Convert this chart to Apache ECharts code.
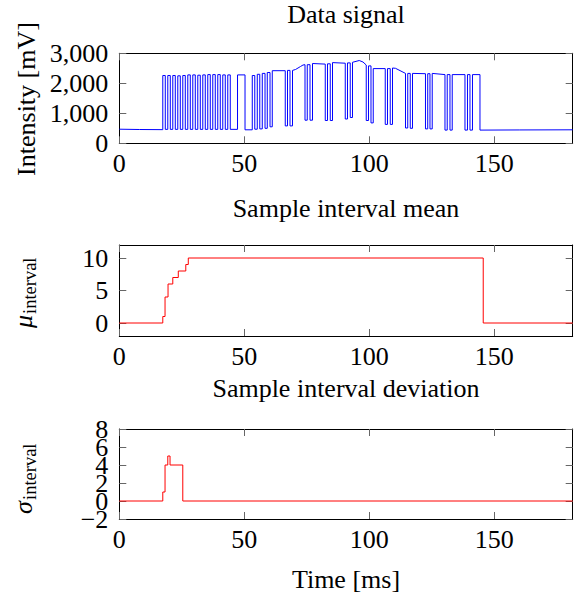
<!DOCTYPE html>
<html><head><meta charset="utf-8">
<script src="https://cdn.jsdelivr.net/npm/echarts@6/dist/echarts.min.js"></script>
<style>html,body{margin:0;padding:0;background:#fff}#c{width:582px;height:597px}</style>
</head><body><div id="c"></div>
<script>
// ---- data ----
const signalTime = [0,8,17.4,17.4,18.4,18.4,19.4,19.4,20.4,20.4,21.4,21.4,22.4,22.4,23.4,23.4,24.4,24.4,25.4,25.4,26.4,26.4,27.4,27.4,28.4,28.4,29.4,29.4,30.4,30.4,31.4,31.4,32.4,32.4,33.4,33.4,34.4,34.4,35.4,35.4,36.4,36.4,37.4,37.4,38.4,38.4,39.4,39.4,40.4,40.4,41.4,41.4,42.4,42.4,43.4,43.4,44.4,44.4,
47.3,47.3,50.3,50.3,53.2,53.2,54.2,54.2,55.2,55.2,56.2,56.2,57.2,57.2,58.3,58.3,59.2,59.2,60.3,60.3,61.2,61.2,66.4,66.4,67.3,67.3,68.3,68.3,69.3,69.3,70.5,72.5,73.5,74.3,74.3,75.2,75.2,76.3,76.3,77.3,77.3,82.4,82.4,83.3,83.3,84.4,84.4,85.3,85.3,90.4,90.4,91.3,91.3,92.4,92.4,93.3,93.3,96,97.5,98.8,98.8,99.7,99.7,100.7,100.7,101.6,101.6,106.4,106.4,107.3,107.3,108.4,108.4,109.3,109.3,110.5,114.5,114.5,115.4,115.4,116.4,116.4,117.3,117.3,122.5,122.5,123.4,123.4,124.3,124.3,125.2,125.2,130.3,130.3,131.2,131.2,132.3,132.3,133.2,133.2,138.3,138.3,139.3,139.3,140.3,140.3,141.3,141.3,144.3,144.3,160,181.4];
const signalValue = [470,460,455,2260,2260,465,465,2260,2260,465,465,2260,2260,465,465,2250,2250,465,465,2260,2260,465,465,2280,2280,465,465,2280,2280,465,465,2270,2270,465,465,2280,2280,465,465,2290,2290,465,465,2290,2290,465,465,2290,2290,465,465,2280,2280,465,465,2280,2280,465,
465,2280,2280,450,450,2260,2260,470,470,2300,2300,480,480,2330,2330,500,500,2360,2360,550,550,2420,2420,580,580,2430,2430,580,580,2430,2460,2560,2610,2620,770,770,2620,2620,770,770,2660,2640,760,760,2650,2650,760,760,2690,2670,810,810,2680,2680,860,860,2700,2760,2710,2610,760,760,2580,2580,680,680,2490,2490,630,630,2490,2490,630,630,2510,2500,2330,510,510,2330,2330,500,500,2330,2320,480,480,2320,2320,480,480,2330,2290,440,440,2290,2290,440,440,2290,2290,440,440,2290,2290,440,440,2290,2290,440,445,450];
const meanTime  = [0,17.4,18.3,19.5,21.4,23.6,26.6,27.6,145.6,181.4];
const meanValue = [0,1,4,6,7,8,9,10,0,0];
const devTime   = [0,17.4,18.3,19.4,20.3,25.4,181.4];
const devValue  = [0,1,4,5,4,0,0];
const timeTicks   = [0,50,100,150];
const signalTicks = [0,1000,2000,3000];
const meanTicks   = [0,5,10];
const devTicks    = [-2,0,2,4,6,8];
const titles = ['Data signal','Sample interval mean','Sample interval deviation'];
const xLabelText = 'Time [ms]';
const signalLabelText = 'Intensity [mV]';

// ---- layout ----
const FONT = 'Liberation Serif';
const FS = 26;
const L = 119.3, W = 453.4, XMAX = 181.4;
const grids = [
  {left:L, top:53.3, width:W, height:90},
  {left:L, top:245, width:W, height:91},
  {left:L, top:429, width:W, height:90}
];
const yRanges = [[0,3000],[-2,12],[-2,8]];
const yTicks = [signalTicks, meanTicks, devTicks];
// the dense deviation labels are split over two co-located axes so that none is dropped
const devLabelsA = devTicks.filter((v, i) => i % 2 === 1);
const devLabelsB = devTicks.filter((v, i) => i % 2 === 0);
const yLabelSets = [signalTicks, meanTicks, devLabelsA];
const fmt = [
  v => Number(v).toLocaleString('en-US'),
  v => String(v),
  v => v < 0 ? '\u2212' + Math.abs(v) : String(v)
];
const lineStyle = {show:true, onZero:false, lineStyle:{color:'#000', width:1}};
function ticks(vals) {
  return {show:true, inside:true, length:7, customValues:vals, lineStyle:{color:'#666', width:1}};
}
function yLabel(vals, f) {
  return {customValues:vals, color:'#000', fontFamily:FONT, fontSize:FS, margin:11,
    lineHeight:17, formatter:f, showMinLabel:true, showMaxLabel:true, hideOverlap:false};
}
const xAxis = [], yAxis = [];
grids.forEach((g, i) => {
  xAxis.push({type:'value', gridIndex:i, min:0, max:XMAX, position:'bottom',
    axisLine:lineStyle, axisTick:ticks(timeTicks),
    axisLabel:{customValues:timeTicks, color:'#000', fontFamily:FONT, fontSize:FS, margin:7,
      showMinLabel:true, showMaxLabel:true},
    splitLine:{show:false}});
  xAxis.push({type:'value', gridIndex:i, min:0, max:XMAX, position:'top',
    axisLine:lineStyle, axisTick:ticks(timeTicks),
    axisLabel:{show:false}, splitLine:{show:false}});
  yAxis.push({type:'value', gridIndex:i, min:yRanges[i][0], max:yRanges[i][1], position:'left',
    axisLine:lineStyle, axisTick:ticks(yTicks[i]),
    axisLabel:yLabel(yLabelSets[i], fmt[i]),
    splitLine:{show:false}});
  yAxis.push({type:'value', gridIndex:i, min:yRanges[i][0], max:yRanges[i][1], position:'right',
    axisLine:lineStyle, axisTick:ticks(yTicks[i]),
    axisLabel:{show:false}, splitLine:{show:false}});
});
yAxis.push({type:'value', gridIndex:2, min:yRanges[2][0], max:yRanges[2][1], position:'left', offset:0,
  axisLine:{show:false, onZero:false}, axisTick:{show:false},
  axisLabel:yLabel(devLabelsB, fmt[2]), splitLine:{show:false}});

const series = [
  {type:'line', xAxisIndex:0, yAxisIndex:0, data:signalTime.map((t,i)=>[t, signalValue[i]]),
   showSymbol:false, lineStyle:{color:'#0000ff', width:1}, itemStyle:{color:'#0000ff'}, silent:true},
  {type:'line', xAxisIndex:2, yAxisIndex:2, step:'end', data:meanTime.map((t,i)=>[t, meanValue[i]]),
   showSymbol:false, lineStyle:{color:'#ff0000', width:1}, itemStyle:{color:'#ff0000'}, silent:true},
  {type:'line', xAxisIndex:4, yAxisIndex:4, step:'end', data:devTime.map((t,i)=>[t, devValue[i]]),
   showSymbol:false, lineStyle:{color:'#ff0000', width:1}, itemStyle:{color:'#ff0000'}, silent:true}
];

const cx = L + W/2;
function txt(text, x, y, size, extra) {
  return Object.assign({type:'text', x:x, y:y, style:{text:text, fill:'#000',
    font: (extra && extra.italic ? 'italic ' : '') + size + 'px ' + FONT,
    textAlign:extra && extra.align || 'center', align:extra && extra.align || 'center',
    textVerticalAlign:'middle', verticalAlign:'middle'}}, extra && extra.rot ? {rotation:extra.rot} : {});
}
function subLabel(sym, x, y) {
  return {type:'group', x:x, y:y, rotation:Math.PI/2, children:[
    txt(sym, -37, 0, FS, {italic:true, align:'left'}),
    txt('interval', -23, 7, 18.5, {align:'left'})
  ]};
}
const graphic = [
  txt(titles[0], cx, 14, FS),
  txt(titles[1], cx, 208, FS),
  txt(titles[2], cx, 388, FS),
  txt(xLabelText, cx, 579, FS),
  txt(signalLabelText, 26, 99, FS, {rot:Math.PI/2}),
  subLabel('\u03bc', 23, 291),
  subLabel('\u03c3', 23, 477)
];

const chart = echarts.init(document.getElementById('c'), null, {renderer:'svg'});
chart.setOption({animation:false, backgroundColor:'#fff',
  grid:grids.map(g => Object.assign({show:false, containLabel:false}, g)),
  xAxis:xAxis, yAxis:yAxis, series:series, graphic:graphic});
</script></body></html>
